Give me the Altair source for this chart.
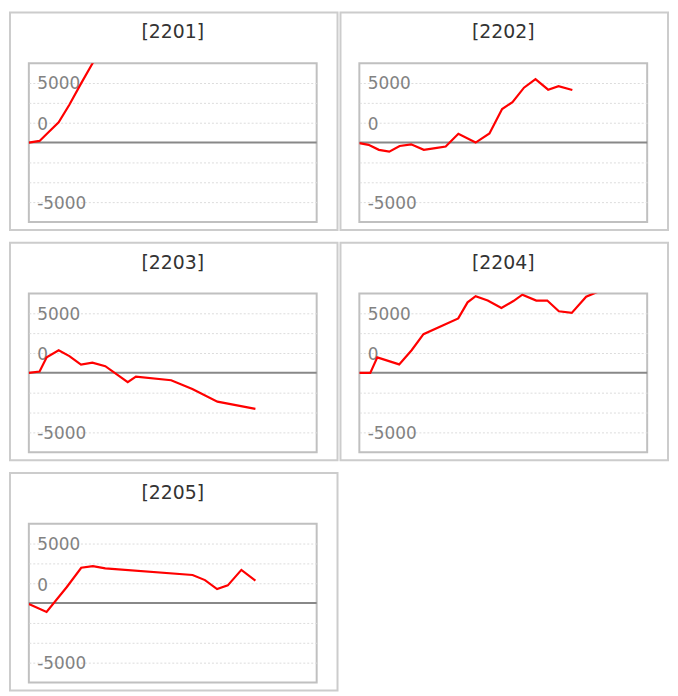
import altair as alt
import pandas as pd

# ---- data ----
contracts = ["2201", "2202", "2203", "2204", "2205"]

x_2201 = [0, 0.93, 1.55, 2.59, 3.52, 4.54, 5.56, 6.64]
y_2201 = [0, 140, 720, 1700, 3170, 4970, 6700, 8300]

x_2202 = [0, 0.8, 1.7, 2.6, 3.5, 4.5, 5.6, 6.6, 7.5, 8.6, 10.1, 11.3, 12.4, 13.3, 14.3, 15.3, 16.4, 17.3, 18.5]
y_2202 = [-50, -190, -610, -760, -290, -150, -610, -470, -330, 740, 0, 770, 2820, 3400, 4610, 5320, 4440, 4740, 4420]

x_2203 = [0, 0.93, 1.55, 2.59, 3.52, 4.53, 5.52, 6.64, 8.59, 9.3, 12.36, 14.2, 16.38, 19.68]
y_2203 = [0, 110, 1300, 1890, 1400, 690, 860, 560, -780, -320, -620, -1360, -2420, -3030]

x_2204 = [0, 0.95, 1.56, 3.46, 4.54, 5.57, 8.59, 9.4, 10.1, 11.15, 12.34, 13.38, 14.16, 15.37, 16.32, 17.33, 18.45, 19.7, 20.7]
y_2204 = [0, 0, 1300, 710, 1900, 3250, 4570, 5920, 6440, 6070, 5440, 6030, 6560, 6070, 6070, 5170, 5030, 6390, 6800]

x_2205 = [0, 1.54, 3.3, 4.55, 5.56, 6.64, 14.22, 15.3, 16.35, 17.28, 18.46, 19.68]
y_2205 = [-80, -740, 1350, 2970, 3110, 2920, 2360, 1930, 1180, 1490, 2790, 1880]

series = {
    "2201": (x_2201, y_2201),
    "2202": (x_2202, y_2202),
    "2203": (x_2203, y_2203),
    "2204": (x_2204, y_2204),
    "2205": (x_2205, y_2205),
}

tick_values = [5000, 0, -5000]
tick_labels = ["5000", "0", "-5000"]
grid_values = [-5000, -10000 / 3, -5000 / 3, 5000 / 3, 10000 / 3, 5000]
y_domain = [-20000 / 3, 20000 / 3]
x_domain = [0, 25]

FONT = "DejaVu Sans"

label_expr = " : ".join(
    f"datum.value == {v} ? '{t}'" for v, t in zip(tick_values, tick_labels)
) + " : ''"

y_scale = alt.Scale(domain=y_domain, nice=False, zero=False)
x_scale = alt.Scale(domain=x_domain, nice=False, zero=False)

common_label = dict(
    domain=False,
    ticks=False,
    labelExpr=label_expr,
    labelAlign="left",
    labelBaseline="middle",
    labelPadding=-8,
    labelFont=FONT,
    labelFontSize=17,
    labelColor="#828282",
    labelOverlap=False,
    title=None,
    orient="left",
)

# grid + outer labels (5000 / -5000)
y_axis_grid = alt.Axis(
    values=grid_values,
    grid=True,
    gridColor="#dcdcdc",
    gridDash=[2, 2],
    gridWidth=1,
    labelOffset=1,
    **common_label,
)

# the "0" label, drawn a little above the zero line as in the reference
y_axis_zero = alt.Axis(
    values=[0],
    grid=False,
    labelOffset=-18,
    **common_label,
)


def panel(code):
    xs, ys = series[code]
    df = pd.DataFrame({"x": xs, "y": ys})
    one = pd.DataFrame({"k": [0]})

    frame = alt.Chart(one).mark_rect(
        filled=False, stroke="#cccccc", strokeWidth=2
    ).encode(
        x=alt.value(-19), x2=alt.value(311), y=alt.value(-51), y2=alt.value(168)
    )

    zero = alt.Chart(one).mark_rule(color="#888888", strokeWidth=2).encode(
        y=alt.Y(datum=0, type="quantitative", scale=y_scale, axis=y_axis_zero)
    )

    line = alt.Chart(df).mark_line(color="#ff0000", strokeWidth=2.2, clip=True).encode(
        x=alt.X("x:Q", scale=x_scale, axis=None),
        y=alt.Y("y:Q", scale=y_scale, axis=y_axis_grid),
    )

    return alt.layer(frame, zero, line).resolve_axis(y="independent").properties(
        width=290,
        height=160,
        title=alt.TitleParams(
            text=f"[{code}]",
            frame="group",
            anchor="middle",
            font=FONT,
            fontSize=19,
            fontWeight="normal",
            color="#333333",
            baseline="alphabetic",
            offset=-46,
        ),
    )


p = [panel(c) for c in contracts]

chart = alt.vconcat(
    alt.hconcat(p[0], p[1], spacing=-1),
    alt.hconcat(p[2], p[3], spacing=-1),
    p[4],
    spacing=9,
).properties(
    padding=0, background="white"
).configure_view(
    stroke="#c0c0c0", strokeWidth=2
)

chart.save("out.html", embed_options={"renderer": "svg", "actions": False})
